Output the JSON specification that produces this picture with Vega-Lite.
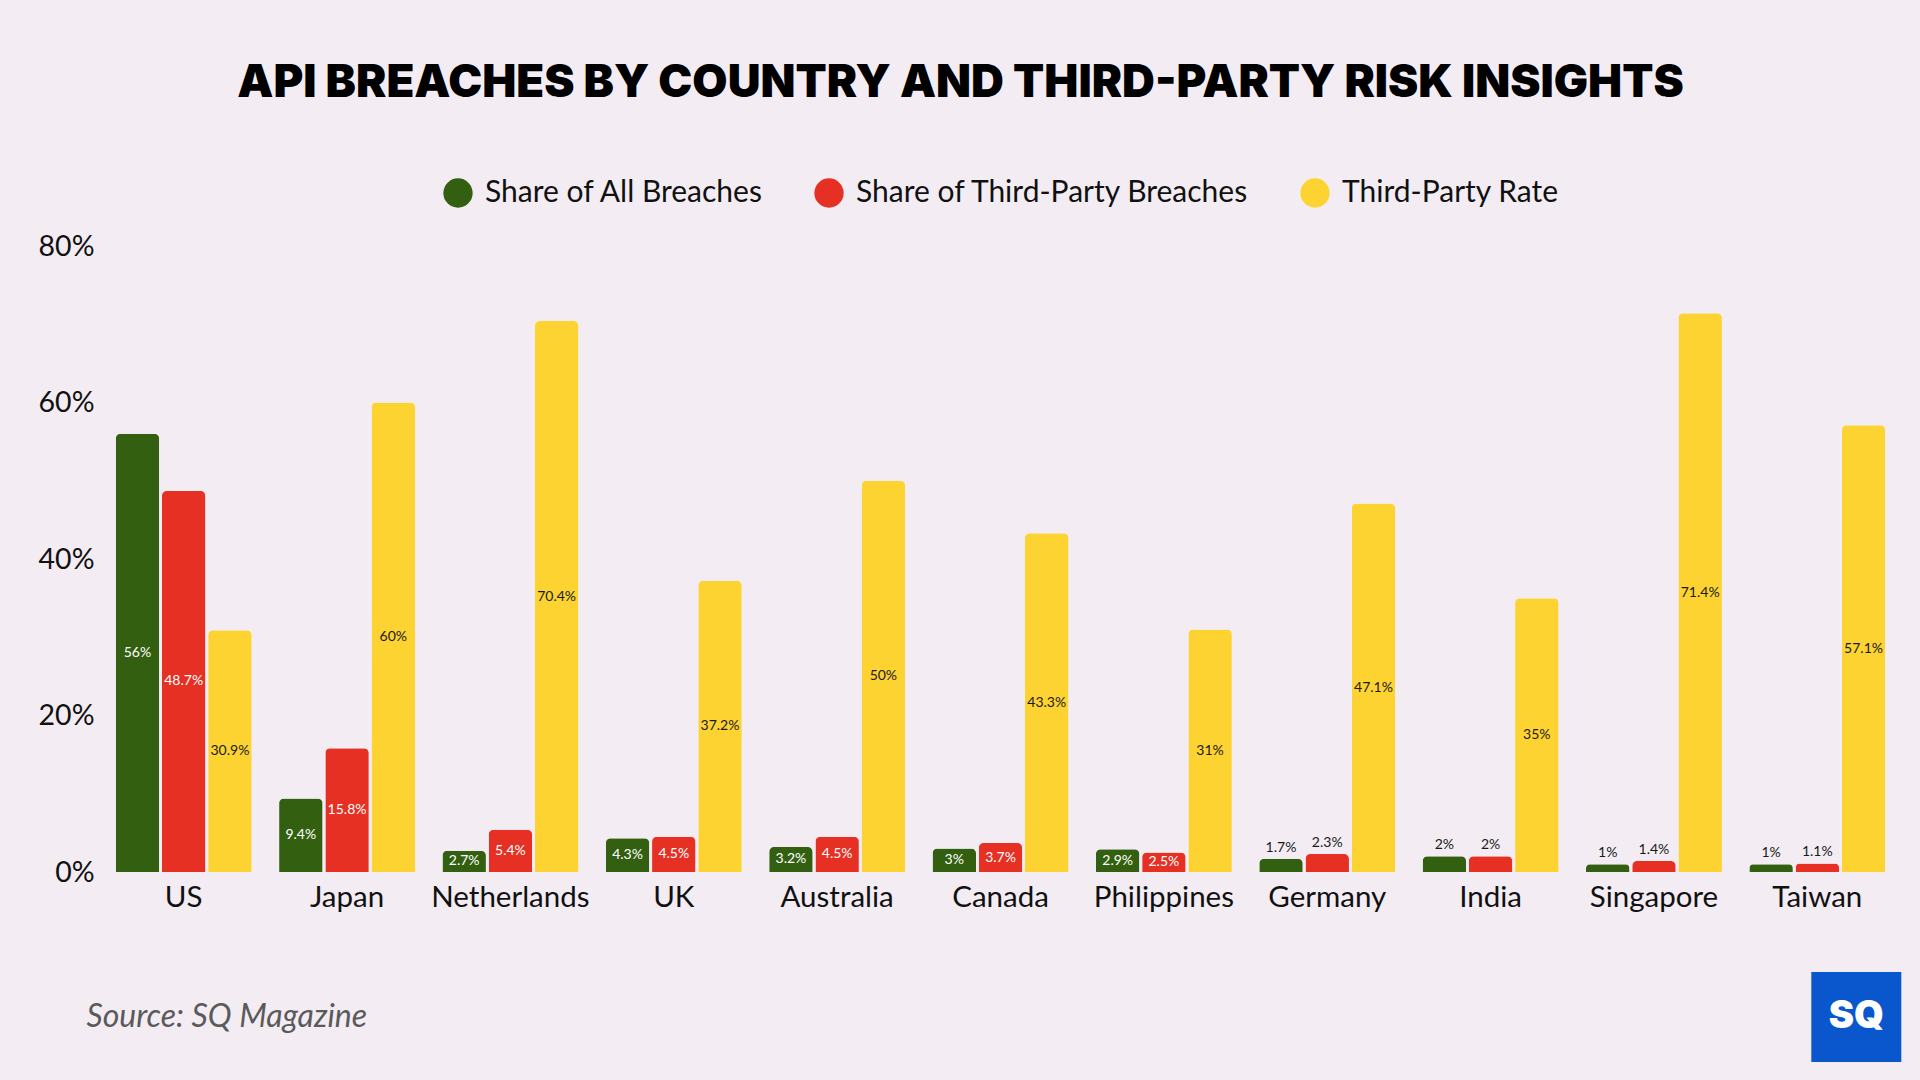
{
  "$schema": "https://vega.github.io/schema/vega-lite/v6.json",
  "autosize": {"type": "none"},
  "width": 1797,
  "height": 626,
  "padding": {"left": 102, "top": 246, "right": 21, "bottom": 208},
  "background": "#f3edf3",
  "title": {
    "text": "API BREACHES BY COUNTRY AND THIRD-PARTY RISK INSIGHTS",
    "anchor": "middle",
    "dx": -40,
    "offset": 72,
    "font": "Inter",
    "fontSize": 45.5,
    "fontWeight": 900,
    "color": "#000000"
  },
  "data": {
    "values": [
      {"country": "US", "series": "Share of All Breaches", "v": 56},
      {"country": "US", "series": "Share of Third-Party Breaches", "v": 48.7},
      {"country": "US", "series": "Third-Party Rate", "v": 30.9},
      {"country": "Japan", "series": "Share of All Breaches", "v": 9.4},
      {"country": "Japan", "series": "Share of Third-Party Breaches", "v": 15.8},
      {"country": "Japan", "series": "Third-Party Rate", "v": 60},
      {"country": "Netherlands", "series": "Share of All Breaches", "v": 2.7},
      {"country": "Netherlands", "series": "Share of Third-Party Breaches", "v": 5.4},
      {"country": "Netherlands", "series": "Third-Party Rate", "v": 70.4},
      {"country": "UK", "series": "Share of All Breaches", "v": 4.3},
      {"country": "UK", "series": "Share of Third-Party Breaches", "v": 4.5},
      {"country": "UK", "series": "Third-Party Rate", "v": 37.2},
      {"country": "Australia", "series": "Share of All Breaches", "v": 3.2},
      {"country": "Australia", "series": "Share of Third-Party Breaches", "v": 4.5},
      {"country": "Australia", "series": "Third-Party Rate", "v": 50},
      {"country": "Canada", "series": "Share of All Breaches", "v": 3},
      {"country": "Canada", "series": "Share of Third-Party Breaches", "v": 3.7},
      {"country": "Canada", "series": "Third-Party Rate", "v": 43.3},
      {"country": "Philippines", "series": "Share of All Breaches", "v": 2.9},
      {"country": "Philippines", "series": "Share of Third-Party Breaches", "v": 2.5},
      {"country": "Philippines", "series": "Third-Party Rate", "v": 31},
      {"country": "Germany", "series": "Share of All Breaches", "v": 1.7},
      {"country": "Germany", "series": "Share of Third-Party Breaches", "v": 2.3},
      {"country": "Germany", "series": "Third-Party Rate", "v": 47.1},
      {"country": "India", "series": "Share of All Breaches", "v": 2},
      {"country": "India", "series": "Share of Third-Party Breaches", "v": 2},
      {"country": "India", "series": "Third-Party Rate", "v": 35},
      {"country": "Singapore", "series": "Share of All Breaches", "v": 1},
      {"country": "Singapore", "series": "Share of Third-Party Breaches", "v": 1.4},
      {"country": "Singapore", "series": "Third-Party Rate", "v": 71.4},
      {"country": "Taiwan", "series": "Share of All Breaches", "v": 1},
      {"country": "Taiwan", "series": "Share of Third-Party Breaches", "v": 1.1},
      {"country": "Taiwan", "series": "Third-Party Rate", "v": 57.1}
    ]
  },
  "transform": [
    {"calculate": "datum.v + '%'", "as": "label"},
    {"calculate": "datum.v / 2", "as": "mid"}
  ],
  "encoding": {
    "x": {
      "field": "country",
      "type": "nominal",
      "sort": null,
      "scale": {"paddingInner": 0.168, "paddingOuter": 0.084},
      "axis": {
        "title": "Source: SQ Magazine",
        "titleFont": "Lato",
        "titleFontSize": 32,
        "titleFontStyle": "italic",
        "titleFontWeight": "normal",
        "titleColor": "#5a5a5a",
        "titleAnchor": "start",
        "titleAlign": "left",
        "titleBaseline": "middle",
        "titleX": -16,
        "titleY": 144,
        "labelAngle": 0,
        "labelFont": "Lato",
        "labelFontSize": 29.5,
        "labelColor": "#111111",
        "labelPadding": 11,
        "domain": false,
        "ticks": false,
        "grid": false
      }
    }
  },
  "layer": [
    {
      "mark": {"type": "bar", "cornerRadiusTopLeft": 5, "cornerRadiusTopRight": 5},
      "encoding": {
        "xOffset": {
          "field": "series",
          "type": "nominal",
          "sort": ["Share of All Breaches", "Share of Third-Party Breaches", "Third-Party Rate"],
          "scale": {"paddingInner": 0.06}
        },
        "y": {
          "field": "v",
          "type": "quantitative",
          "scale": {"domain": [0, 80], "nice": false},
          "axis": {
            "title": null,
            "values": [0, 20, 40, 60, 80],
            "labelExpr": "datum.value + '%'",
            "labelFont": "Lato",
            "labelFontSize": 28.5,
            "labelColor": "#111111",
            "labelPadding": 8,
            "domain": false,
            "ticks": false,
            "grid": false
          }
        },
        "color": {
          "field": "series",
          "type": "nominal",
          "scale": {
            "domain": ["Share of All Breaches", "Share of Third-Party Breaches", "Third-Party Rate"],
            "range": ["#335f10", "#e53023", "#fdd331"]
          },
          "legend": {
            "title": null,
            "orient": "top",
            "direction": "horizontal",
            "symbolType": "circle",
            "symbolSize": 860,
            "symbolStrokeWidth": 0,
            "labelFont": "Lato",
            "labelFontSize": 30,
            "labelColor": "#111111",
            "labelLimit": 0,
            "labelOffset": 12,
            "columnPadding": 50,
            "offset": 38
          }
        }
      }
    },
    {
      "transform": [{"filter": "datum.v >= 2.5"}],
      "mark": {"type": "text", "font": "Lato", "fontSize": 14, "baseline": "middle", "align": "center"},
      "encoding": {
        "xOffset": {
          "field": "series",
          "type": "nominal",
          "sort": ["Share of All Breaches", "Share of Third-Party Breaches", "Third-Party Rate"]
        },
        "y": {"field": "mid", "type": "quantitative"},
        "text": {"field": "label"},
        "color": {
          "condition": {"test": "datum.series == 'Third-Party Rate'", "value": "#1a1a1a"},
          "value": "#ffffff"
        }
      }
    },
    {
      "transform": [{"filter": "datum.v < 2.5"}],
      "mark": {"type": "text", "font": "Lato", "fontSize": 14, "baseline": "bottom", "align": "center", "dy": -4, "color": "#1a1a1a"},
      "encoding": {
        "xOffset": {
          "field": "series",
          "type": "nominal",
          "sort": ["Share of All Breaches", "Share of Third-Party Breaches", "Third-Party Rate"]
        },
        "y": {"field": "v", "type": "quantitative"},
        "text": {"field": "label"}
      }
    },
    {
      "data": {"values": [{"brand": "SQ"}]},
      "mark": {"type": "point", "shape": "square", "size": 8100, "filled": true, "opacity": 1, "color": "#0a56cc", "xOffset": 39, "yOffset": 145},
      "encoding": {
        "x": {"datum": "Taiwan"},
        "y": {"datum": 0}
      }
    },
    {
      "data": {"values": [{"brand": "SQ"}]},
      "mark": {"type": "text", "font": "Inter", "fontSize": 38, "fontWeight": 900, "color": "#ffffff", "baseline": "middle", "align": "center", "xOffset": 39, "yOffset": 145},
      "encoding": {
        "x": {"datum": "Taiwan"},
        "y": {"datum": 0},
        "text": {"field": "brand"}
      }
    }
  ],
  "config": {
    "view": {"stroke": null},
    "legend": {"layout": {"top": {"anchor": "middle"}}}
  }
}
